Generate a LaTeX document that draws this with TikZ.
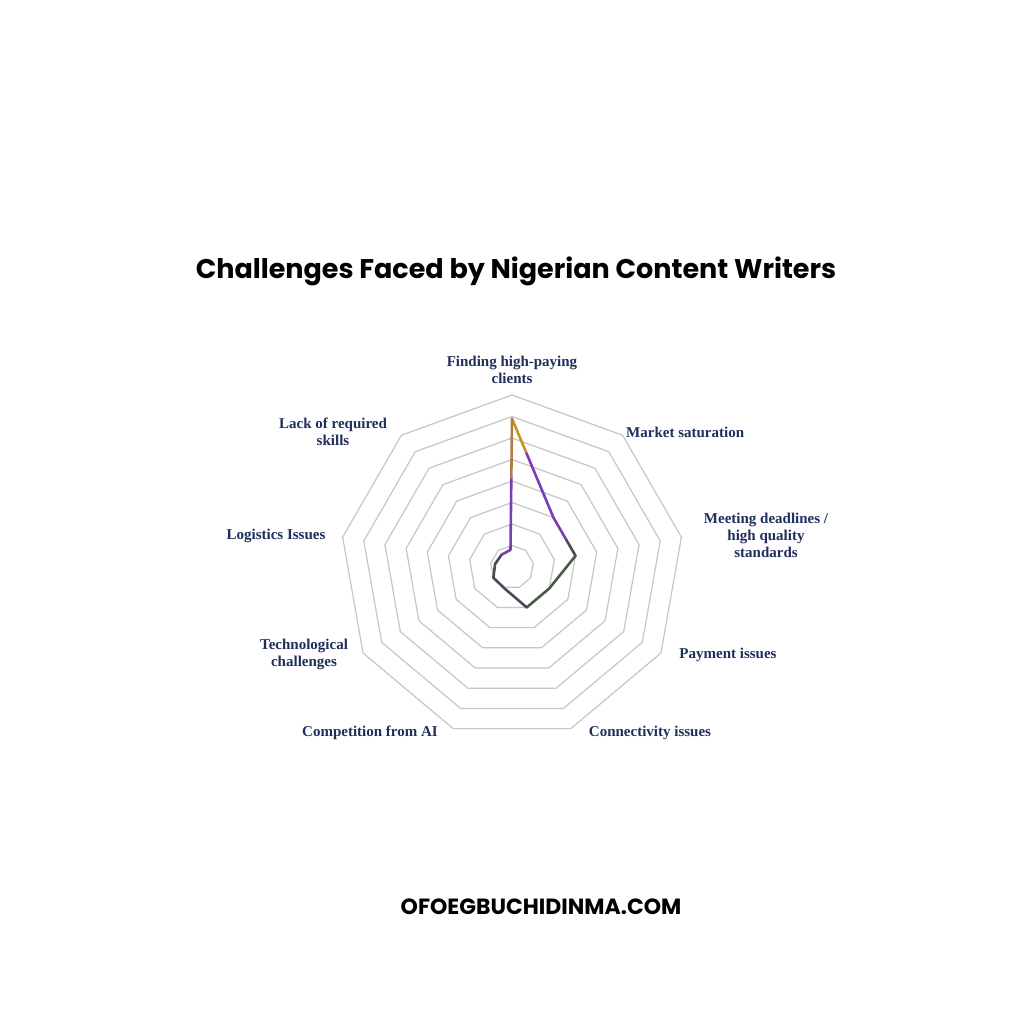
\documentclass[tikz,border=0pt]{standalone}
\usepackage{fontspec}
\setmainfont{Liberation Serif}
\newfontfamily\poppins{Poppins}
\usetikzlibrary{calc}
\begin{document}
\begin{tikzpicture}[x=1pt,y=-1pt]
    \tikzset{
        axislabel/.style={font=\fontsize{15}{17}\selectfont\bfseries, text=navy, align=center, inner sep=0pt},
        ring/.style={draw=gray!45, line width=1.2pt},
        dataline/.style={line width=2.6pt, line join=round, line cap=round}
    }
    \definecolor{navy}{HTML}{1F2F5C}
    \definecolor{gold}{HTML}{C8961E}
    \definecolor{violet}{HTML}{7A3DB8}
    \definecolor{moss}{HTML}{4A5A48}
    \definecolor{slate}{HTML}{4A4A5A}
    % Background
    \fill[white] (0,0) rectangle (1024,1024);
    % Title
    \node (title) at (516,271) {\poppins\fontsize{27}{30}\selectfont\bfseries Challenges Faced by Nigerian Content Writers};
    % Rings
    \coordinate (centre) at (512,567);
    \foreach \r in {1,...,8}
        \draw[ring, shift={(centre)}] (-90:\r*21.5) \foreach \k in {1,...,8} {-- (-90+\k*40:\r*21.5)} -- cycle;
    % Data points
    \foreach \k/\v in {0/6.9, 1/3.0, 2/3.0, 3/2.0, 4/2.0, 5/1.05, 6/1.0, 7/0.8, 8/0.75}
        \coordinate (p\k) at ($(centre)+(\k*40-90:\v*21.5)$);
    \coordinate (q8) at ($(centre)+(-95:0.8*21.5)$);
    % Data line
    \draw[dataline, gold] (p0) -- ($(p0)!0.35!(p1)$);
    \draw[dataline, violet] ($(p0)!0.35!(p1)$) -- (p1) -- ($(p1)!0.6!(p2)$);
    \draw[dataline, slate] ($(p1)!0.6!(p2)$) -- (p2);
    \draw[dataline, moss] (p2) -- (p3) -- (p4);
    \draw[dataline, slate] (p4) -- (p5) -- (p6) -- (p7) -- (p8);
    \draw[dataline, violet] (p8) -- (q8) -- ($(q8)!0.55!(p0)$);
    \draw[dataline, gold!70!violet] ($(q8)!0.55!(p0)$) -- (p0);
    % Axis labels
    \node[axislabel] (findclients) at (512,370) {Finding high-paying\\clients};
    \node[axislabel, anchor=west] (saturation) at (626,432) {Market saturation};
    \node[axislabel] (deadlines) at (766,535) {Meeting deadlines /\\high quality\\standards};
    \node[axislabel] (payment) at (728,655) {Payment issues};
    \node[axislabel] (connectivity) at (650,733) {Connectivity issues};
    \node[axislabel] (competition) at (370,733) {Competition from AI};
    \node[axislabel] (technological) at (304,654) {Technological\\challenges};
    \node[axislabel] (logistics) at (276,536) {Logistics Issues};
    \node[axislabel] (skills) at (333,432) {Lack of required\\skills};
    % Footer
    \node (footer) at (541,907) {\poppins\fontsize{22}{24}\selectfont\bfseries OFOEGBUCHIDINMA.COM};
\end{tikzpicture}
\end{document}
